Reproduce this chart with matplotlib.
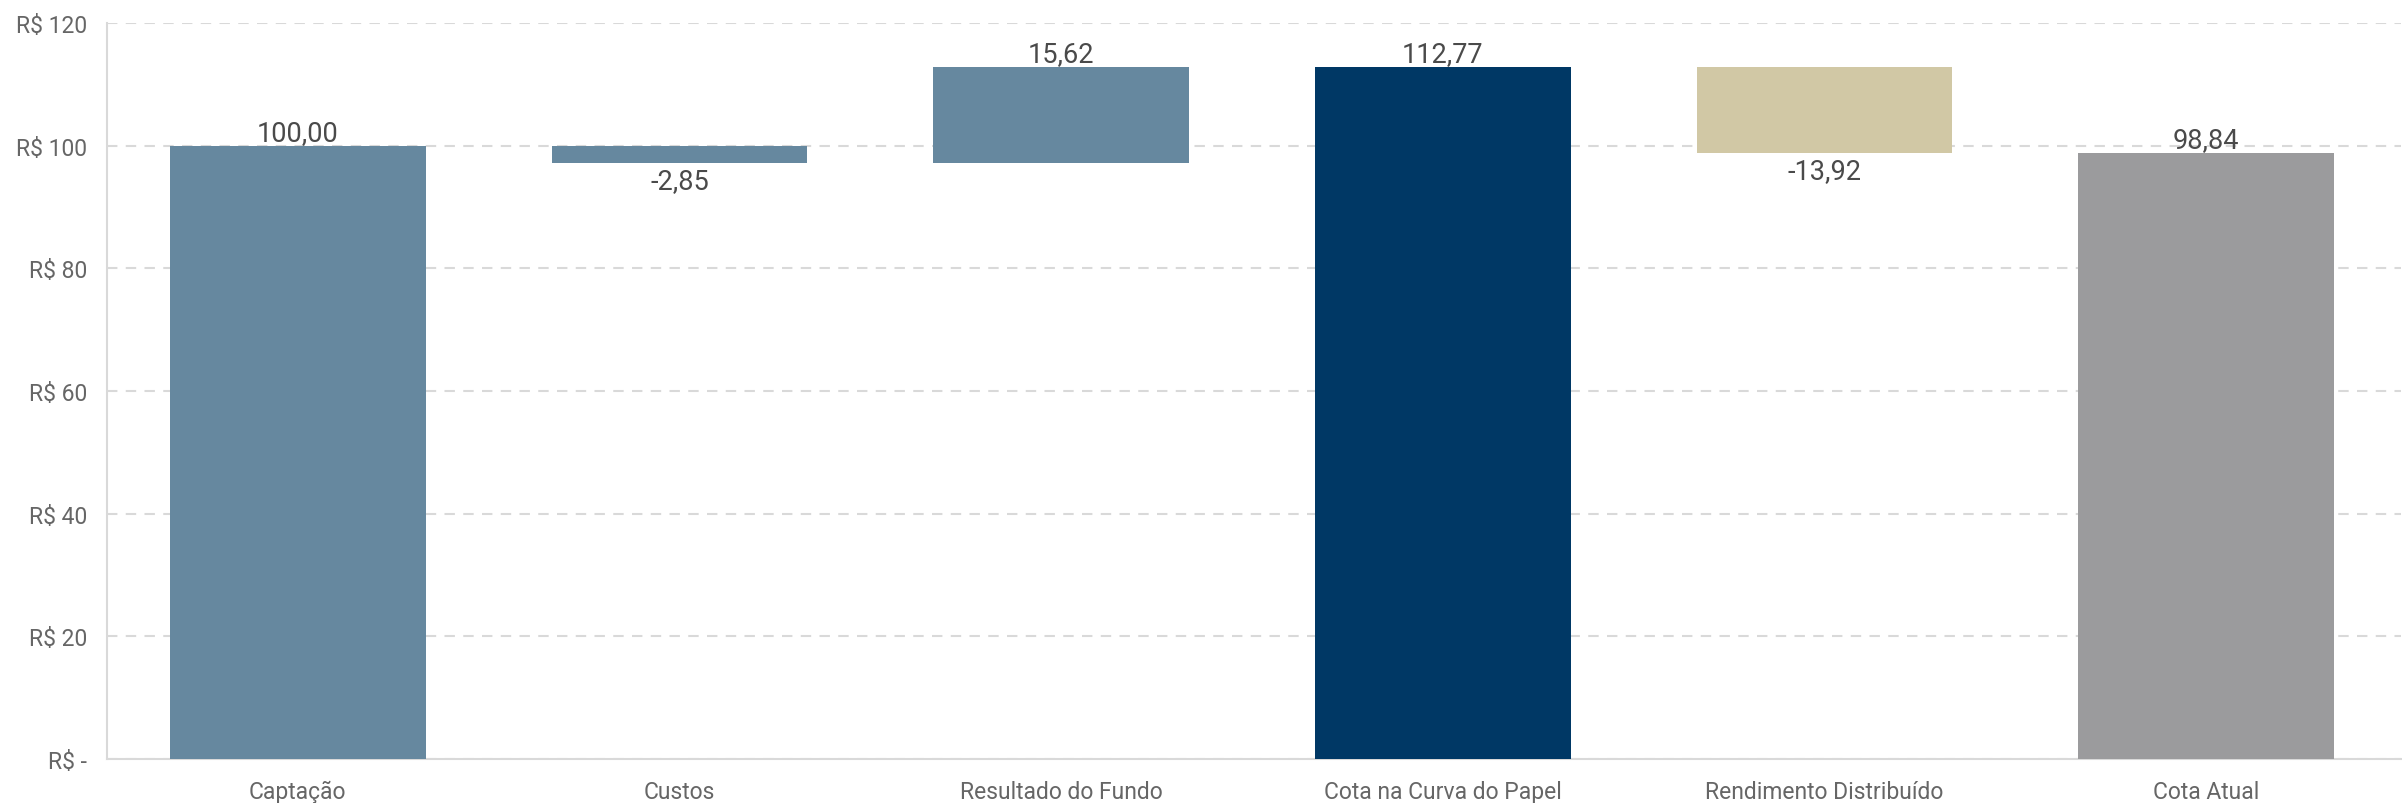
import matplotlib
matplotlib.use("Agg")
import matplotlib.pyplot as plt
import numpy as np

# dados do gráfico (cascata)
categorias = ['Captação', 'Custos', 'Resultado do Fundo', 'Cota na Curva do Papel',
              'Rendimento Distribuído', 'Cota Atual']
valores = [100.00, -2.85, 15.62, 112.77, -13.92, 98.84]
eh_total = [True, False, False, True, False, True]
cores = ['#66889f', '#66889f', '#66889f', '#003865', '#d1c8a5', '#9b9b9d']
yticks = [0, 20, 40, 60, 80, 100, 120]
ytick_labels = ['R$ -', 'R$ 20', 'R$ 40', 'R$ 60', 'R$ 80', 'R$ 100', 'R$ 120']

plt.rcParams['font.family'] = ['Roboto', 'DejaVu Sans']

fig = plt.figure(figsize=(24.02, 8.04), dpi=100)
ax = fig.add_axes([0.0445, 0.0547, 0.955, 0.9155])

# base de cada barra
bases, alturas = [], []
acumulado = 0.0
for v, tot in zip(valores, eh_total):
    if tot:
        bases.append(0.0)
        alturas.append(v)
        acumulado = v
    else:
        if v >= 0:
            bases.append(acumulado)
        else:
            bases.append(acumulado + v)
        alturas.append(abs(v))
        acumulado += v

x = np.arange(len(categorias))
ax.bar(x, alturas, bottom=bases, width=0.67, color=cores, zorder=3)

def fmt(v):
    return f'{v:.2f}'.replace('.', ',')

for i, (v, b, h) in enumerate(zip(valores, bases, alturas)):
    if v >= 0:
        ax.annotate(fmt(v), (x[i], b + h), xytext=(0, 0), textcoords='offset points',
                    ha='center', va='bottom', fontsize=19.5, color='#4a4a4a', zorder=4)
    else:
        ax.annotate(fmt(v), (x[i], b), xytext=(0, -3), textcoords='offset points',
                    ha='center', va='top', fontsize=19.5, color='#4a4a4a', zorder=4)

ax.set_xlim(-0.5, 5.51)
ax.set_ylim(0, 120)
ax.set_yticks(yticks)
ax.set_yticklabels(ytick_labels)
ax.set_xticks(x)
ax.set_xticklabels(categorias)
ax.tick_params(axis='both', length=0, labelsize=16.5, labelcolor='#666666')
ax.tick_params(axis='x', pad=15)
ax.tick_params(axis='y', pad=14)

ax.grid(axis='y', color='#d9d9d9', linestyle=(0, (5, 4)), linewidth=1.5, zorder=0)
for s in ['top', 'right']:
    ax.spines[s].set_visible(False)
for s in ['left', 'bottom']:
    ax.spines[s].set_color('#d9d9d9')
    ax.spines[s].set_linewidth(1.5)

fig.savefig('out.png', dpi=100)
